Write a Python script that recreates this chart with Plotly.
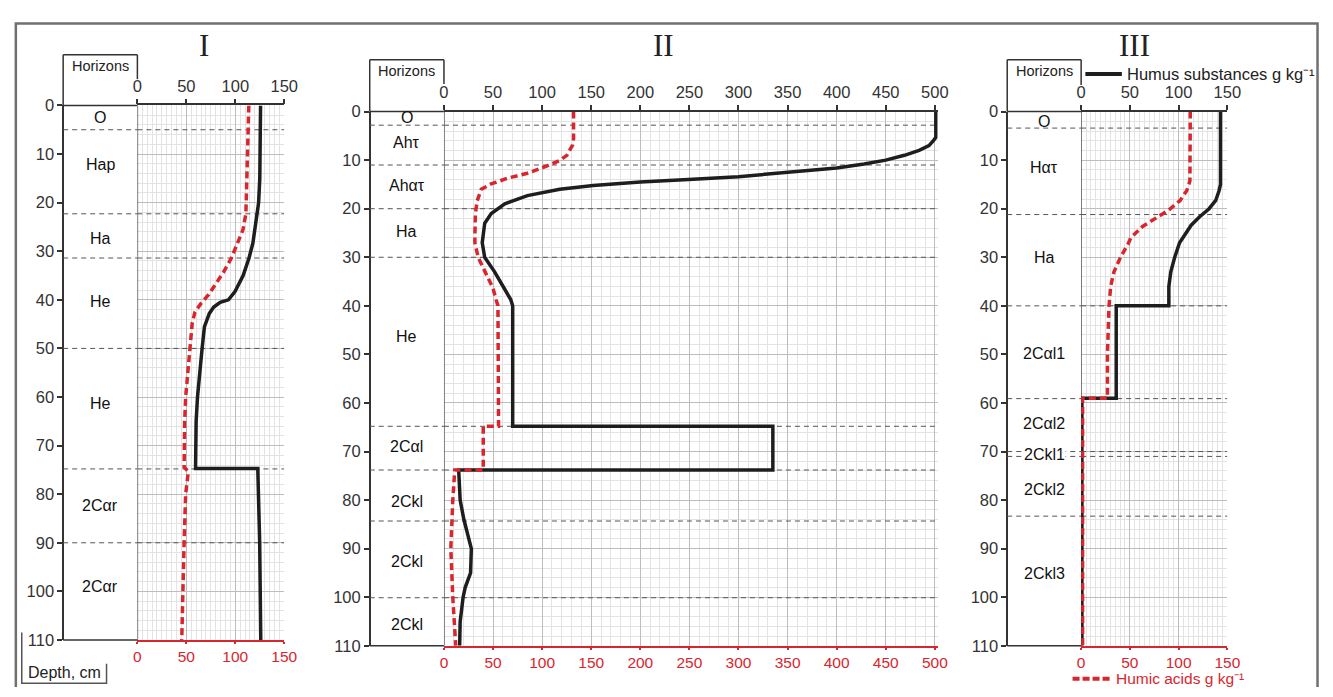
import plotly.graph_objects as go

W, H = 1333, 697

# ---------------- data ----------------
depth_ticks_step = 10

# Profile I
I_hs_depth = [0, 5, 10, 15, 20, 22.3, 25.6, 28.3, 31.4, 35, 38.3, 39.6, 40, 40.5, 41.5, 42.8, 45.5, 50, 55, 60, 65, 70, 74.7, 74.7, 75, 90, 110]
I_hs = [125.8, 125.8, 125.5, 125, 123.8, 122, 120, 118, 114, 108, 99.7, 94.6, 93, 84.6, 78, 73.5, 68.5, 66.1, 63.4, 61.4, 60, 59.4, 59.4, 123, 123, 124.9, 126]
I_ha_depth = [0, 5, 10, 15, 22.3, 25.6, 28.3, 31.4, 34.3, 36.9, 38.9, 40.9, 42.5, 44.8, 50, 55, 60, 65, 70, 74.4, 75.4, 80, 90, 100, 110]
I_ha = [113.8, 113.2, 112.8, 112, 110.8, 107.8, 102, 96, 88, 79.5, 72.9, 64.4, 58.8, 56, 53.7, 51, 49.3, 48.3, 47.7, 47.7, 52, 49.3, 47.7, 46.5, 45.3]
I_bounds = [5, 22.3, 31.4, 50, 74.8, 90]
I_labels = ["O", "Hap", "Ha", "He", "He", "2Cαr", "2Cαr"]
I_label_depth = [2.5, 12.2, 27.3, 40.3, 61.3, 82.4, 98.9]

# Profile II
II_hs_depth = [0, 5.3, 6.0, 7.0, 8.0, 9.0, 10.0, 10.8, 11.6, 12.6, 13.4, 14.0, 14.5, 15.2, 16.0, 17.3, 19.0, 21.0, 23.0, 27.0, 30.0, 33.0, 36.4, 38.7, 40.0, 64.8, 64.8, 73.8, 73.8, 80, 84, 88, 90, 95, 98, 100, 105, 110]
II_hs = [501, 501, 498.5, 494, 484, 469, 450, 428, 400, 349, 300, 249, 200, 152, 118, 85, 62, 48.2, 41.5, 39, 41.5, 51.6, 61.6, 68, 70, 70, 335, 335, 15, 16.5, 20.3, 25.8, 27.9, 27.1, 21.6, 19.5, 16.5, 16]
II_ha_depth = [0, 5.6, 6.9, 9.0, 10.0, 11.2, 12.7, 13.7, 14.9, 16.0, 18.4, 21.0, 25.7, 27.0, 30.0, 33.0, 36.4, 38.7, 40.0, 64.8, 64.8, 73.8, 73.8, 80, 90, 100, 110]
II_ha = [132, 132, 131, 125.2, 118.5, 105, 85, 65, 48, 38, 33.8, 32, 31.5, 31.5, 34.8, 41.5, 50, 53, 55, 55.6, 40, 40, 11, 9, 7, 9, 12]
II_bounds = [2.8, 11, 20, 30, 64.8, 73.8, 84.3, 100.1]
II_labels = ["O", "Ahτ", "Ahατ", "Ha", "He", "2Cαl", "2Ckl", "2Ckl", "2Ckl"]
II_label_depth = [1.2, 6.3, 15.3, 24.7, 46.4, 69, 80.2, 92.6, 105.6]

# Profile III
III_hs_depth = [0, 15, 16.3, 18.3, 20, 21.7, 23.4, 25.8, 27, 30, 33, 36, 40, 40, 59, 59, 110]
III_hs = [143, 143, 141.5, 138.1, 131.3, 121.3, 112.9, 104.5, 101, 96, 92, 90, 90, 36, 36, 0.8, 0.8]
III_ha_depth = [0, 12.3, 14.3, 16.3, 18.3, 20.3, 22, 23.7, 26, 27, 30, 33, 36, 40, 50, 59, 59, 110]
III_ha = [112, 112, 111.6, 108.3, 101.6, 89.7, 76.2, 62.7, 50.9, 48.8, 40.4, 33.7, 30.3, 28.6, 27, 27, 1.5, 1.5]
III_bounds = [3.4, 21.2, 40, 59.1, 70, 71, 83.3]
III_labels = ["O", "Hατ", "Ha", "2Cαl1", "2Cαl2", "2Ckl1", "2Ckl2", "2Ckl3"]
III_label_depth = [2, 11.6, 30, 49.8, 64.3, 70.6, 77.8, 95.2]

titles = ["I", "II", "III"]
legend_hs = "Humus substances g kg⁻¹"
legend_ha = "Humic acids g kg⁻¹"

# ---------------- styling / layout ----------------
BLACK = "#1e1e1e"
RED = "#d8262e"
AX = "#333333"
GRID = "#bdbdbd"
MINOR = "#e3e3e3"
SANS = "Liberation Sans, Arial, sans-serif"
SERIF = "Liberation Serif, Times New Roman, serif"


def px(x):
    return x / W


def py(y):
    return 1 - y / H


panels = [
    dict(hs_d=I_hs_depth, hs=I_hs, ha_d=I_ha_depth, ha=I_ha, bounds=I_bounds, labels=I_labels, ldepth=I_label_depth,
         left=134.3, right=283.3, top=99.0, bottom=647.7, yline=59.0, boxtop=47, boxrb=72,
         xmax=150, minor=5, title_x=202),
    dict(hs_d=II_hs_depth, hs=II_hs, ha_d=II_ha_depth, ha=II_ha, bounds=II_bounds, labels=II_labels, ldepth=II_label_depth,
         left=445.3, right=445.3 + 503 * 0.996, top=105.3, bottom=653.7, yline=370.0, boxtop=52, boxrb=77,
         xmax=503, minor=10, title_x=668),
    dict(hs_d=III_hs_depth, hs=III_hs, ha_d=III_ha_depth, ha=III_ha, bounds=III_bounds, labels=III_labels, ldepth=III_label_depth,
         left=1091.7, right=1240.0, top=105.3, bottom=653.7, yline=1016.7, boxtop=52, boxrb=78,
         xmax=150, minor=5, title_x=1146),
]

fig = go.Figure()
layout = dict(width=W, height=H, margin=dict(l=0, r=0, t=0, b=0),
              paper_bgcolor="white", plot_bgcolor="white", showlegend=False)
shapes = []
annotations = []

tickfont = dict(family=SANS, size=16.5, color=AX)

for i, p in enumerate(panels):
    n = "" if i == 0 else str(i + 1)
    xa, ya, xr = "x" + n, "y" + n, "x" + str(i + 4)
    layout["xaxis" + n] = dict(
        domain=[px(p["left"]), px(p["right"])], range=[0, p["xmax"]], side="top", anchor=ya,
        tickmode="linear", tick0=0, dtick=50, ticks="outside", ticklen=5, tickwidth=1.5, tickcolor=AX,
        showline=True, linecolor=AX, linewidth=1.5, showgrid=True, gridcolor=GRID, gridwidth=1,
        minor=dict(dtick=p["minor"], tick0=0, showgrid=True, gridcolor=MINOR, gridwidth=1),
        zeroline=False, tickfont=tickfont, fixedrange=True)
    layout["yaxis" + n] = dict(
        domain=[py(p["bottom"]), py(p["top"])], range=[110, 0], anchor="free", position=px(p["yline"]),
        tickmode="linear", tick0=0, dtick=depth_ticks_step, ticks="outside", ticklen=5, tickwidth=1.5, tickcolor=AX,
        showline=True, linecolor=AX, linewidth=1.5, showgrid=True, gridcolor=GRID, gridwidth=1,
        minor=dict(dtick=2, tick0=0, showgrid=True, gridcolor=MINOR, gridwidth=1),
        zeroline=False, tickfont=tickfont, fixedrange=True)
    layout["xaxis" + str(i + 4)] = dict(
        overlaying=xa, anchor=ya, side="bottom", range=[0, p["xmax"]],
        tickmode="linear", tick0=0, dtick=50, ticks="outside", ticklen=2, tickwidth=1.5, tickcolor=RED,
        showline=True, linecolor=RED, linewidth=1.5, showgrid=False, zeroline=False,
        tickfont=dict(family=SANS, size=15.5, color=RED), fixedrange=True)

    fig.add_trace(go.Scatter(x=p["hs"], y=p["hs_d"], xaxis=xa, yaxis=ya, mode="lines",
                             line=dict(color=BLACK, width=3.5), hoverinfo="skip"))
    fig.add_trace(go.Scatter(x=p["ha"], y=p["ha_d"], xaxis=xr, yaxis=ya, mode="lines",
                             line=dict(color=RED, width=3.5, dash="7px,4px"), hoverinfo="skip"))

    L, R, T, B, YL = p["left"], p["right"], p["top"], p["bottom"], p["yline"]
    shapes.append(dict(type="line", xref="paper", yref="paper", x0=px(YL), x1=px(YL), y0=py(p["boxtop"]), y1=py(T),
                       line=dict(color=AX, width=1.5)))
    shapes.append(dict(type="line", xref="paper", yref="paper", x0=px(YL), x1=px(L), y0=py(p["boxtop"]), y1=py(p["boxtop"]),
                       line=dict(color=AX, width=1.5)))
    shapes.append(dict(type="line", xref="paper", yref="paper", x0=px(L), x1=px(L), y0=py(p["boxtop"]), y1=py(p["boxrb"]),
                       line=dict(color=AX, width=1.5)))
    shapes.append(dict(type="line", xref="paper", yref="paper", x0=px(YL), x1=px(L), y0=py(T), y1=py(T),
                       line=dict(color=AX, width=1.5)))
    shapes.append(dict(type="line", xref="paper", yref="paper", x0=px(YL), x1=px(L), y0=py(B), y1=py(B),
                       line=dict(color=AX, width=1.5)))
    shapes.append(dict(type="line", xref=xa, yref=ya, x0=0, x1=0, y0=0, y1=110, layer="between",
                       line=dict(color="#555555", width=1.5)))
    for d in p["bounds"]:
        shapes.append(dict(type="line", xref="paper", yref=ya, x0=px(YL), x1=px(L), y0=d, y1=d,
                           line=dict(color="#555555", width=1, dash="5px,4px")))
        shapes.append(dict(type="line", xref=xa, yref=ya, x0=0, x1=p["xmax"], y0=d, y1=d, layer="between",
                           line=dict(color="#555555", width=1, dash="5px,4px")))
    cx = (YL + L) / 2
    for lab, d in zip(p["labels"], p["ldepth"]):
        ann = dict(x=px(cx), y=d, xref="paper", yref=ya, text=lab, showarrow=False,
                   xanchor="center", yanchor="middle",
                   font=dict(family=SANS, size=16, color="#111111"))
        if lab == "2Ckl1":
            ann["bgcolor"] = "white"
            ann["borderpad"] = 0
        annotations.append(ann)
    annotations.append(dict(x=px(cx), y=py(p["boxtop"] + 12), xref="paper", yref="paper", text="Horizons",
                            showarrow=False, xanchor="center", yanchor="middle",
                            font=dict(family=SANS, size=14.5, color="#222222")))
    annotations.append(dict(x=px(p["title_x"]), y=py(37), xref="paper", yref="paper", text=titles[i],
                            showarrow=False, xanchor="center", yanchor="middle",
                            font=dict(family=SERIF, size=31, color="#222222")))

# outer frame (open at the bottom, the reference is cut there) - kept inside the canvas
shapes.append(dict(type="path", xref="paper", yref="paper",
                   path=f"M {px(11)} {py(696)} L {px(11)} {py(15)} L {px(1331.5)} {py(15)} L {px(1331.5)} {py(696)}",
                   line=dict(color="#707070", width=2.5)))
shapes.append(dict(type="path", xref="paper", yref="paper",
                   path=f"M {px(17)} {py(640)} L {px(17)} {py(692)} L {px(103)} {py(692)} L {px(103)} {py(672)}",
                   line=dict(color="#555555", width=1.5)))
annotations.append(dict(x=px(60), y=py(681), xref="paper", yref="paper", text="Depth, cm", showarrow=False,
                        xanchor="center", yanchor="middle", font=dict(family=SANS, size=16, color="#222222")))

shapes.append(dict(type="line", xref="paper", yref="paper", x0=px(1096), x1=px(1133), y0=py(66.7), y1=py(66.7),
                   line=dict(color=BLACK, width=4)))
annotations.append(dict(x=px(1137), y=py(66.7), xref="paper", yref="paper", text=legend_hs, showarrow=False,
                        xanchor="left", yanchor="middle", borderpad=0,
                        font=dict(family=SANS, size=16.5, color="#222222")))
shapes.append(dict(type="line", xref="paper", yref="paper", x0=px(1083), x1=px(1122), y0=py(687.5), y1=py(687.5),
                   line=dict(color=RED, width=4, dash="7px,3px")))
annotations.append(dict(x=px(1126), y=py(697), xref="paper", yref="paper", text=legend_ha, showarrow=False,
                        xanchor="left", yanchor="bottom", borderpad=0,
                        font=dict(family=SANS, size=15.5, color=RED)))

layout["shapes"] = shapes
layout["annotations"] = annotations
fig.update_layout(**layout)

fig.write_html("out.html", config={"displayModeBar": False},
               post_script="document.body.style.margin='0';document.body.style.overflow='hidden';")
